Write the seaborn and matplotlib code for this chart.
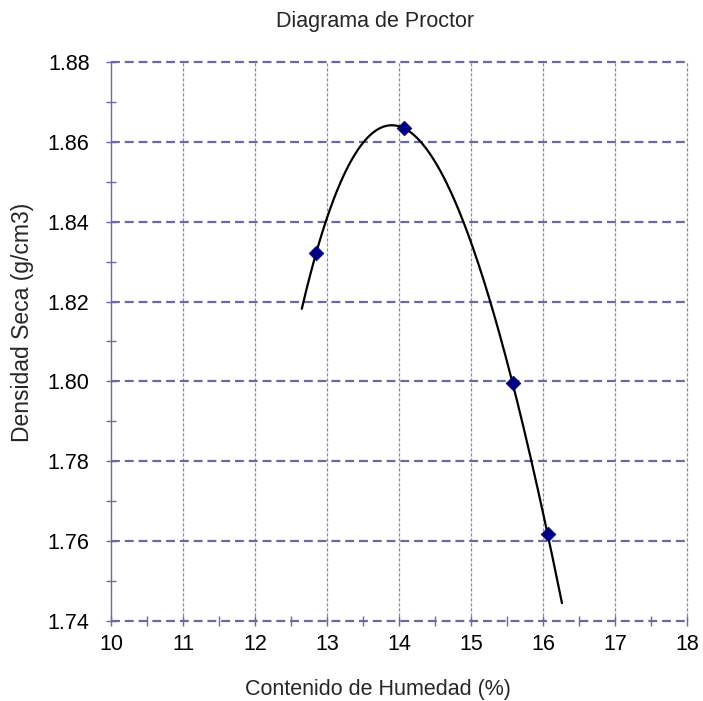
import numpy as np
import pandas as pd
import matplotlib
matplotlib.use("Agg")
import matplotlib.pyplot as plt
import seaborn as sns
from matplotlib.ticker import MultipleLocator

# Data
humedad = [12.85, 14.07, 15.58, 16.065]
densidad = [1.8322, 1.8634, 1.7995, 1.7618]
trend_order = 3
trend_forecast = 0.2  # forward/backward extension of the trendline
x_ticks = [10, 11, 12, 13, 14, 15, 16, 17, 18]
y_ticks = [1.74, 1.76, 1.78, 1.80, 1.82, 1.84, 1.86, 1.88]

title = "Diagrama de Proctor"
xlabel = "Contenido de Humedad (%)"
ylabel = "Densidad Seca (g/cm3)"

sns.set_style("white")
plt.rcParams['font.family'] = ['Liberation Sans', 'DejaVu Sans']

grid_c = "#6A6A9E"

fig = plt.figure(figsize=(7.03, 7.01), dpi=100)
ax = fig.add_axes([0.158, 0.1141, 0.977 - 0.158, 0.9116 - 0.1141])

df = pd.DataFrame({"x": humedad, "y": densidad})
coef = np.polyfit(df.x, df.y, trend_order)
xs = np.linspace(min(humedad) - trend_forecast, max(humedad) + trend_forecast, 300)
trend = pd.DataFrame({"x": xs, "y": np.polyval(coef, xs)})

ax.set_xlim(x_ticks[0], x_ticks[-1])
ax.set_ylim(y_ticks[0], y_ticks[-1])

# grid lines
for yv in y_ticks:
    ax.axhline(yv, color=grid_c, lw=1.6, ls=(0, (4, 2.2)), zorder=1, clip_on=False)
for xv in x_ticks[1:]:
    ax.axvline(xv, color=grid_c, lw=0.9, ls=(0, (2.5, 1.5)), zorder=1, clip_on=False, alpha=0.8)

sns.lineplot(data=trend, x="x", y="y", ax=ax, color="black", lw=1.6, sort=False,
             estimator=None, zorder=3)
sns.scatterplot(data=df, x="x", y="y", ax=ax, marker="D", s=55, color="#000080",
                edgecolor="#000080", zorder=4)

for s in ["top", "right", "bottom"]:
    ax.spines[s].set_visible(False)
ax.spines["left"].set_color(grid_c)
ax.spines["left"].set_linewidth(1.0)

ax.set_xticks(x_ticks)
ax.set_yticks(y_ticks)
ax.set_yticklabels([f"{v:.2f}" for v in y_ticks])
ax.xaxis.set_minor_locator(MultipleLocator(0.5))
ax.yaxis.set_minor_locator(MultipleLocator(0.01))
ax.tick_params(axis="both", which="both", direction="inout", color=grid_c, width=1.0,
               labelsize=15.5, labelcolor="black", bottom=True, left=True)
ax.tick_params(axis="y", which="major", length=7, pad=12)
ax.tick_params(axis="x", which="major", length=7, pad=6)
ax.tick_params(axis="both", which="minor", length=7)

ax.set_xlabel(xlabel, fontsize=15.5)
ax.set_ylabel(ylabel, fontsize=16.5)
ax.xaxis.set_label_coords(0.463, -0.123)
ax.xaxis.label.set_va("center")
ax.yaxis.set_label_coords(-0.153, 0.535)
ax.yaxis.label.set_va("center")
fig.text(375 / 703, 1 - 22 / 701, title, fontsize=15.5, ha="center", va="center")

fig.savefig("out.png", dpi=100, facecolor="white")
